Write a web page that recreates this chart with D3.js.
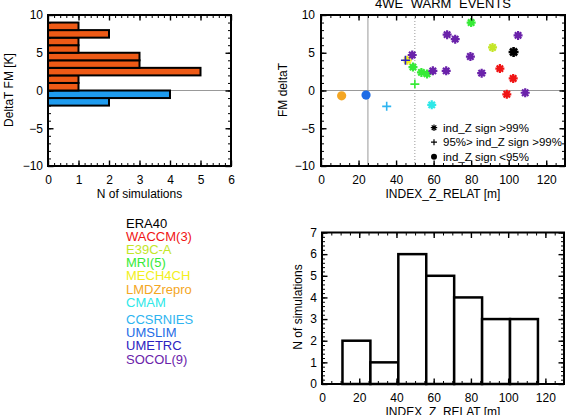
<!DOCTYPE html>
<html>
<head>
<meta charset="utf-8">
<script src="https://cdn.jsdelivr.net/npm/d3@7"></script>
<style>
  body { margin: 0; background: #fff; }
  svg { display: block; font-family: "Liberation Sans", Arial, sans-serif; }
</style>
</head>
<body>
<svg id="chart" width="567" height="415"></svg>
<script>
// models and colours (legend)
const models = ["ERA40", "WACCM(3)", "E39C-A", "MRI(5)", "MECH4CH", "LMDZrepro", "CMAM",
                "CCSRNIES", "UMSLIM", "UMETRC", "SOCOL(9)"];
const modelColors = ["#000000", "#f01414", "#c4e628", "#36ea36", "#f2f020", "#f4a623", "#2ee8e8",
                     "#2eb4f0", "#1e6ce6", "#2c22c0", "#6a22aa"];

// histogram of DeltaT FM (lower bin edge, counts)
const dtBins = [-2, -1, 0, 1, 2, 3, 4, 5, 6, 7, 8];
const dtCounts = [2, 4, 1, 1, 5, 3, 3, 1, 1, 2, 1];

// scatter: one entry per simulation
const pointModel = [0, 1, 1, 1, 2, 3, 3, 3, 3, 3, 4, 5, 6, 7, 8, 9,
                    10, 10, 10, 10, 10, 10, 10, 10, 10];
const indexZ = [102.6, 95.3, 102.4, 99, 91.4, 80, 49, 53.5, 56.5, 50, 46, 11, 59, 35, 24, 45,
                48.6, 59.6, 66.7, 67.2, 71.5, 79.6, 85.6, 105, 108.8];
const deltaT = [5.1, 2.9, 1.6, -0.5, 5.7, 9.0, 3.1, 2.4, 2.2, 0.85, 4.0, -0.7, -1.9, -2.1, -0.6, 4.0,
                4.7, 2.6, 2.6, 7.4, 6.8, 4.5, 2.3, 7.3, -0.3];
// 2 = ind_Z sign >99%, 1 = 95%> ind_Z sign >99%, 0 = ind_Z sign <95%
const pointSig = [2, 2, 2, 2, 2, 2, 2, 2, 2, 1, 2, 0, 2, 1, 0, 1,
                  2, 2, 2, 2, 2, 2, 2, 2, 2];
const sigLabels = ["ind_Z sign >99%", "95%> ind_Z sign >99%", "ind_Z sign <95%"];

// histogram of INDEX_Z_RELAT
const zEdges = [11, 26, 41, 56, 71, 86, 101, 116];
const zCounts = [2, 1, 6, 5, 4, 3, 3];

const svg = d3.select("#chart");

function boxAxes(g, x, y, xMajor, xMinor, yMajor, yMinor, padX, padY) {
    const [x0, x1] = x.range();
    const [y0, y1] = y.range();

    const defs = [
        [() => d3.axisBottom(x), `translate(0,${y0})`, xMajor, xMinor, true, padX],
        [() => d3.axisTop(x), `translate(0,${y1})`, xMajor, xMinor, false, 3],
        [() => d3.axisLeft(y), `translate(${x0},0)`, yMajor, yMinor, true, padY],
        [() => d3.axisRight(y), `translate(${x1},0)`, yMajor, yMinor, false, 3],
    ];
    defs.forEach(([make, tr, major, minor, labels, pad]) => {
        const gMinor = g.append("g").attr("transform", tr)
            .call(make().tickValues(minor).tickSize(-3).tickFormat(""));
        gMinor.select(".domain").remove();
        gMinor.selectAll("line").attr("stroke-width", 1);

        const gMajor = g.append("g").attr("transform", tr)
            .call(make().tickValues(major).tickSize(-5.5).tickPadding(pad)
                .tickFormat(labels ? d3.format("d") : ""));
        gMajor.select(".domain").remove();
        gMajor.selectAll("line").attr("stroke-width", 1.4);
        gMajor.selectAll("text").attr("font-size", 12).attr("fill", "#000")
            .attr("font-family", "Liberation Sans, Arial, sans-serif");
    });

    g.append("rect")
        .attr("x", x0).attr("y", y1)
        .attr("width", x1 - x0).attr("height", y0 - y1)
        .attr("fill", "none").attr("stroke", "#000").attr("stroke-width", 2);
}

function rangeStep(a, b, step) {
    return d3.range(Math.round((b - a) / step) + 1).map(i => +(a + i * step).toFixed(4));
}

function starPath(r) {
    const d = r * Math.SQRT1_2;
    return `M${-r},0L${r},0M0,${-r}L0,${r}M${-d},${-d}L${d},${d}M${-d},${d}L${d},${-d}`;
}

function plusPath(r) {
    return `M${-r},0L${r},0M0,${-r}L0,${r}`;
}

// ---- panel 1: DeltaT FM histogram (horizontal bars) ----
const x1s = d3.scaleLinear().domain([0, 6]).range([48, 231]);
const y1s = d3.scaleLinear().domain([-10, 10]).range([166, 15]);
const p1 = svg.append("g");

p1.append("line")
    .attr("x1", x1s(0)).attr("x2", x1s(6))
    .attr("y1", y1s(0)).attr("y2", y1s(0))
    .attr("stroke", "#999").attr("stroke-width", 1);

p1.selectAll("rect.bar")
    .data(dtBins.map((b, i) => ({ b, n: dtCounts[i] })))
    .join("rect")
    .attr("class", "bar")
    .attr("x", x1s(0))
    .attr("y", d => y1s(d.b + 1))
    .attr("width", d => x1s(d.n) - x1s(0))
    .attr("height", d => y1s(d.b) - y1s(d.b + 1))
    .attr("fill", d => d.b < 0 ? "#1e9bee" : "#ee5a16")
    .attr("stroke", "#000").attr("stroke-width", 2);

boxAxes(p1, x1s, y1s, rangeStep(0, 6, 1), rangeStep(0, 6, 0.2),
        rangeStep(-10, 10, 5), rangeStep(-10, 10, 1), 9, 5);

p1.append("text").attr("x", 139.5).attr("y", 197.5).attr("text-anchor", "middle")
    .attr("font-size", 12).text("N of simulations");
p1.append("text").attr("transform", "translate(12.5,90) rotate(-90)").attr("text-anchor", "middle")
    .attr("font-size", 12).text("DeltaT FM [K]");

// ---- panel 2: scatter ----
const x2s = d3.scaleLinear().domain([0, 130]).range([321, 565]);
const y2s = d3.scaleLinear().domain([-10, 10]).range([166, 15]);
const p2 = svg.append("g");

p2.append("line")
    .attr("x1", x2s(0)).attr("x2", x2s(130)).attr("y1", y2s(0)).attr("y2", y2s(0))
    .attr("stroke", "#999").attr("stroke-width", 1);
p2.append("line")
    .attr("x1", x2s(25)).attr("x2", x2s(25)).attr("y1", y2s(-10)).attr("y2", y2s(10))
    .attr("stroke", "#999").attr("stroke-width", 1);
p2.append("line")
    .attr("x1", x2s(50)).attr("x2", x2s(50)).attr("y1", y2s(-10)).attr("y2", y2s(10))
    .attr("stroke", "#999").attr("stroke-width", 1).attr("stroke-dasharray", "1,2");

const pts = indexZ.map((v, i) => ({ x: v, y: deltaT[i], m: pointModel[i], s: pointSig[i] }));
// draw ERA40 last so it sits on top
const order = pts.slice(1).concat(pts.slice(0, 1));

p2.selectAll("g.pt")
    .data(order)
    .join("g")
    .attr("class", "pt")
    .attr("transform", d => `translate(${x2s(d.x)},${y2s(d.y)})`)
    .each(function (d) {
        const el = d3.select(this);
        const c = modelColors[d.m];
        if (d.s === 2) {
            const r = d.m === 0 ? 5 : 4.5;
            el.append("path").attr("d", starPath(r)).attr("stroke", c)
                .attr("stroke-width", d.m === 0 ? 2.6 : 2.2).attr("fill", "none");
            el.append("rect").attr("x", -2.2).attr("y", -2.2).attr("width", 4.4).attr("height", 4.4)
                .attr("fill", c);
        } else if (d.s === 1) {
            el.append("path").attr("d", plusPath(4.5)).attr("stroke", c)
                .attr("stroke-width", 1.6).attr("fill", "none");
        } else {
            el.append("circle").attr("r", 4.6).attr("fill", c);
        }
    });

boxAxes(p2, x2s, y2s, rangeStep(0, 120, 20), rangeStep(0, 130, 5),
        rangeStep(-10, 10, 5), rangeStep(-10, 10, 1), 9, 6);

// legend of significance symbols
const sigLeg = p2.selectAll("g.sig")
    .data([2, 1, 0])
    .join("g")
    .attr("class", "sig")
    .attr("transform", (d, i) => `translate(434,${127.7 + i * 14.5})`);
sigLeg.each(function (d) {
    const el = d3.select(this);
    if (d === 2) {
        el.append("path").attr("d", starPath(3.2)).attr("stroke", "#000").attr("stroke-width", 1.2);
    } else if (d === 1) {
        el.append("path").attr("d", plusPath(3)).attr("stroke", "#000").attr("stroke-width", 1.2);
    } else {
        el.append("circle").attr("r", 3).attr("fill", "#000");
    }
});
sigLeg.append("text").attr("x", 9).attr("y", 4).attr("font-size", 11.5)
    .text((d, i) => sigLabels[i]);

p2.append("text").attr("x", 443).attr("y", 7.5).attr("text-anchor", "middle")
    .attr("font-size", 13).attr("word-spacing", 4).text("4WE WARM EVENTS");
p2.append("text").attr("x", 443).attr("y", 197.5).attr("text-anchor", "middle")
    .attr("font-size", 12).text("INDEX_Z_RELAT [m]");
p2.append("text").attr("transform", "translate(287,90) rotate(-90)").attr("text-anchor", "middle")
    .attr("font-size", 12).text("FM deltaT");

// ---- model legend ----
svg.append("g").selectAll("text")
    .data(models)
    .join("text")
    .attr("x", 126)
    .attr("y", (d, i) => 227.6 + i * 13.2 + (i >= 7 ? 4 : 0))
    .attr("font-size", 13)
    .attr("fill", (d, i) => modelColors[i])
    .text(d => d);

// ---- panel 3: INDEX_Z_RELAT histogram ----
const x3s = d3.scaleLinear().domain([0, 130]).range([322, 564]);
const y3s = d3.scaleLinear().domain([0, 7]).range([384, 232.5]);
const p3 = svg.append("g");

p3.selectAll("rect.bar")
    .data(zCounts.map((n, i) => ({ a: zEdges[i], b: zEdges[i + 1], n })))
    .join("rect")
    .attr("class", "bar")
    .attr("x", d => x3s(d.a))
    .attr("y", d => y3s(d.n))
    .attr("width", d => x3s(d.b) - x3s(d.a))
    .attr("height", d => y3s(0) - y3s(d.n))
    .attr("fill", "#fff").attr("stroke", "#000").attr("stroke-width", 2.5);

boxAxes(p3, x3s, y3s, rangeStep(0, 120, 20), rangeStep(0, 130, 5),
        rangeStep(0, 7, 1), rangeStep(0, 7, 0.2), 9, 5);

p3.append("text").attr("x", 443).attr("y", 415.5).attr("text-anchor", "middle")
    .attr("font-size", 12).text("INDEX_Z_RELAT [m]");
p3.append("text").attr("transform", "translate(302,307) rotate(-90)").attr("text-anchor", "middle")
    .attr("font-size", 12).text("N of simulations");
</script>
</body>
</html>
